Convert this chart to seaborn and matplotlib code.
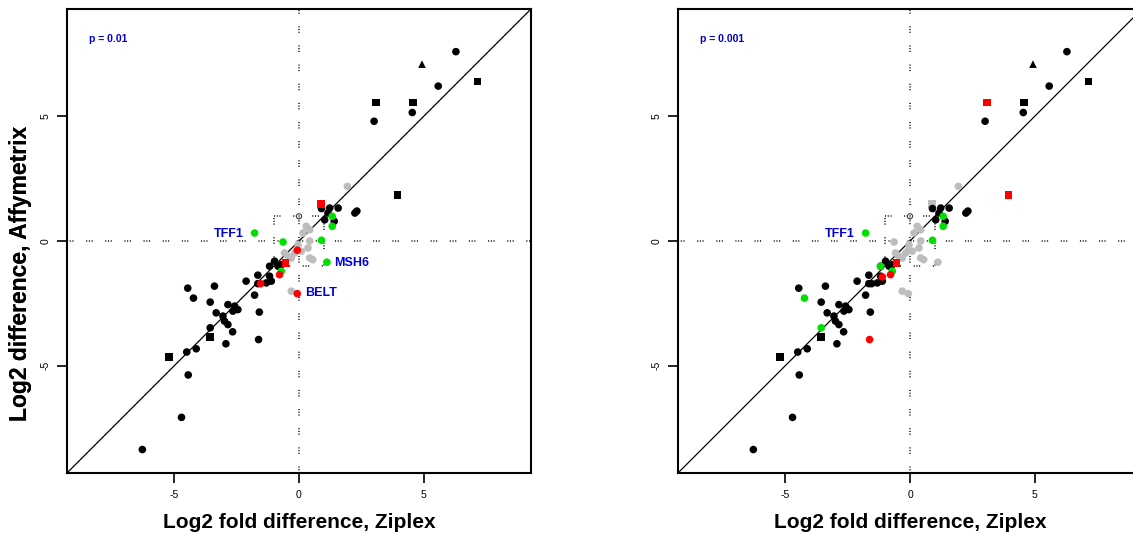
import numpy as np
import pandas as pd
import matplotlib
matplotlib.use("Agg")
import matplotlib.pyplot as plt
import seaborn as sns

sns.set_style("white")
plt.rcParams['font.family'] = ['Liberation Sans', 'DejaVu Sans']
plt.rcParams['text.color'] = 'black'
plt.rcParams['axes.labelcolor'] = 'black'
plt.rcParams['xtick.color'] = 'black'
plt.rcParams['ytick.color'] = 'black'

# ---- data ----
x_vals = [6.29, 4.93, 7.15, 5.58, 3.08, 4.58, 4.54, 3.01, 3.95, 2.24, 2.32, 1.23, 1.57, 1.03, 1.41, 1.16,
          0.87, 0.90, -4.46, -3.39, -4.23, -3.56, -2.12, -1.78, -1.65, -1.65, -1.18, -1.11, -0.98, -1.18,
          -0.84, -0.71, -1.31, -2.85, -2.58, -2.45, -2.65, -3.32, -3.05, -2.99, -2.85, -1.59, -2.66, -3.56,
          -3.56, -2.93, -1.62, -4.12, -4.50, -5.22, -4.44, -4.71, -6.28,
          -0.54, -0.78, -1.54, -0.07, -0.07,
          -1.78, -0.64, 1.12, 1.33, 1.33, -0.71, 0.90, -1.18, -1.11,
          1.94, 0.29, 0.43, 0.16, 0.43, 0.36, -0.17, -0.31, 0.09, 0.43, -0.31, -0.58, -0.04, -0.45, 0.55]
y_vals = [7.59, 7.09, 6.40, 6.21, 5.55, 5.55, 5.15, 4.80, 1.84, 1.12, 1.20, 1.32, 1.32, 0.85, 0.79, 1.12,
          1.48, 1.30, -1.89, -1.81, -2.29, -2.45, -1.61, -2.17, -1.71, -1.37, -1.41, -1.61, -0.81, -1.01,
          -1.01, -0.95, -1.68, -2.55, -2.61, -2.75, -2.81, -2.88, -3.01, -3.21, -3.35, -2.85, -3.64, -3.48,
          -3.85, -4.12, -3.95, -4.32, -4.45, -4.64, -5.37, -7.07, -8.36,
          -0.88, -1.35, -1.71, -0.37, -2.11,
          0.32, -0.04, -0.85, 0.99, 0.59, -1.21, 0.03, -1.01, -1.44,
          2.19, 0.59, 0.45, 0.32, 0.00, -0.28, -0.48, -0.68, -0.41, -0.68, -2.01, -0.48, -0.15, -0.60, -0.75]
shape = (['o', '^', 's', 'o', 's', 's', 'o', 'o', 's'] + ['o'] * 7 + ['s'] + ['o'] * 27 + ['s', 'o', 'o', 'o', 'o', 's']
         + ['o'] * 3 + ['s', 'o', 'o', 'o', 'o'] + ['o'] * 9 + ['o'] * 15)
# colour class per panel: k black, r red, g green, y gray, n not shown
col_p01 = (['k'] * 16 + ['r', 'k'] + ['k'] * 35 +
           ['r', 'r', 'r', 'r', 'r'] +
           ['g', 'g', 'g', 'g', 'g', 'g', 'g', 'n', 'n'] +
           ['y'] * 15)
col_p001 = (['k'] * 4 + ['r', 'k', 'k', 'k', 'r'] + ['k'] * 7 + ['y', 'k'] +
            ['k', 'k', 'g'] + ['k'] * 22 + ['g', 'k', 'k', 'r'] + ['k'] * 6 +
            ['r', 'r', 'k', 'y', 'y'] +
            ['g', 'y', 'y', 'g', 'g', 'g', 'g', 'g', 'r'] +
            ['y'] * 15)
panel_titles = ["p = 0.01", "p = 0.001"]
gene_labels_p01 = [("TFF1", -2.2, 0.30, 'right'), ("MSH6", 1.4, -0.87, 'left'), ("BELT", 0.25, -2.08, 'left')]
gene_labels_p001 = [("TFF1", -2.2, 0.30, 'right')]
ticks = [-5, 0, 5]

palette = {'k': '#000000', 'r': '#ff0000', 'g': '#00e000', 'y': '#bdbdbd'}
markers = {'o': 'o', 's': 's', '^': '^'}
zorders = {'y': 2, 'k': 3, 'g': 4, 'r': 4}

fig = plt.figure(figsize=(11.33, 5.40), dpi=100)
W, H = 1133, 540
pos = [(67, 9, 464, 464), (678, 9, 464, 464)]
lim = (-9.3, 9.3)
dot = (0, (0.6, 0.9, 0.6, 0.9, 0.6, 7.0))

for i, (cols, glabels) in enumerate([(col_p01, gene_labels_p01), (col_p001, gene_labels_p001)]):
    l, t, w, h = pos[i]
    ax = fig.add_axes([l / W, 1 - (t + h) / H, w / W, h / H])
    df = pd.DataFrame({'x': x_vals, 'y': y_vals, 'shape': shape, 'col': cols})
    df = df[df['col'] != 'n']
    ax.axhline(0, color='#333333', lw=1.3, ls=dot, zorder=1)
    ax.axvline(0, color='#333333', lw=1.3, ls=dot, zorder=1)
    ax.plot([-1, 1, 1, -1, -1], [1, 1, -1, -1, 1], color='#333333', lw=1.3, ls=dot, zorder=1)
    ax.plot(lim, lim, color='black', lw=0.9, zorder=1.5)
    for c in ['y', 'k', 'g', 'r']:
        sub = df[df['col'] == c]
        if len(sub) == 0:
            continue
        sns.scatterplot(data=sub, x='x', y='y', style='shape', markers=markers, color=palette[c],
                        s=30, linewidth=0, ax=ax, legend=False, zorder=zorders[c])
    ax.scatter([0], [0.99], s=14, facecolors='none', edgecolors='#444444', linewidths=0.8, zorder=2)
    ax.set_xlim(*lim)
    ax.set_ylim(*lim)
    ax.set_xticks(ticks)
    ax.set_yticks(ticks)
    ax.set_xticklabels([str(v) for v in ticks], fontsize=7.5)
    ax.set_yticklabels([str(v) for v in ticks], fontsize=7.5, rotation=90, va='center')
    ax.tick_params(direction='out', length=7, width=1.2, color='black', pad=5)
    ax.tick_params(axis='x', bottom=True)
    ax.tick_params(axis='y', left=True)
    for sp in ax.spines.values():
        sp.set_color('black')
        sp.set_linewidth(1.5)
    ax.set_xlabel("Log2 fold difference, Ziplex", fontsize=15, fontweight='bold', va='center')
    ax.set_ylabel("Log2 difference, Affymetrix", fontsize=16.5, fontweight='bold', va='center')
    ax.xaxis.set_label_coords(0.5, (473 - 522) / 464)
    ax.yaxis.set_label_coords((21 - l) / 464, (473 - 273) / 464)
    ax.text(-8.4, 8.1, panel_titles[i], color='#0000cc', fontsize=7.5, fontweight='bold', va='center', ha='left')
    for name, gx, gy, ha in glabels:
        ax.text(gx, gy, name, color='#0000dd', fontsize=9, fontweight='bold', va='center', ha=ha)

fig.savefig("out.png", dpi=100)
